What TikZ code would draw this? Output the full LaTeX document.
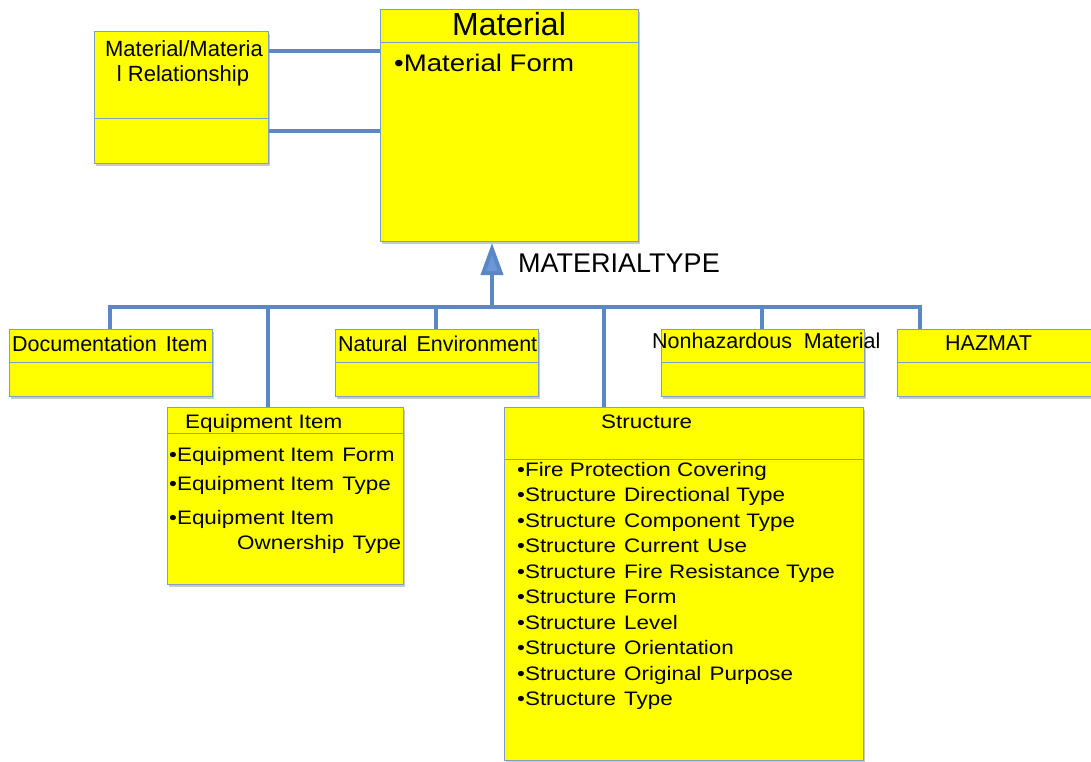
\documentclass[tikz,border=0pt]{standalone}
\usepackage{fontspec}
\setmainfont{Liberation Sans}
\newfontfamily\wf{Liberation Sans}[FakeStretch=1.15]
\newcommand\wsp{\hskip0.42em\relax}
\usetikzlibrary{arrows.meta,shadows}
\definecolor{boxy}{HTML}{FFFF00}
\definecolor{edgec}{HTML}{7F9FCB}
\definecolor{connc}{HTML}{5A88C6}
\definecolor{tipc}{HTML}{6A98D6}
\begin{document}
\begin{tikzpicture}[x=1pt,y=-1pt,
  box/.style={draw=edgec, line width=1pt, fill=boxy, inner sep=0pt, anchor=north west,
    drop shadow={shadow xshift=1.5pt, shadow yshift=-2.5pt, opacity=0.3, fill=black!70}},
  conn/.style={draw=connc, line width=4pt},
  sepl/.style={draw=edgec, line width=1pt},
  lbl/.style={inner sep=0pt, anchor=base west, font=\fontsize{21.5}{25}\selectfont},
  txt/.style={inner sep=0pt, anchor=base west, font=\wf\fontsize{19.5}{25.5}\selectfont}]
\useasboundingbox (0,0) rectangle (1091,762);
% boxes
\node[box, minimum width=258pt, minimum height=232pt] (mat) at (380,9) {};
\node[box, minimum width=174pt, minimum height=132pt] (rel) at (94,31) {};
\node[box, minimum width=203pt, minimum height=67pt] (doc) at (9,329) {};
\node[box, minimum width=203pt, minimum height=67pt] (nat) at (335,329) {};
\node[box, minimum width=203pt, minimum height=67pt] (non) at (661,329) {};
\node[box, minimum width=200pt, minimum height=67pt] (haz) at (897,329) {};
\node[box, minimum width=236pt, minimum height=177pt] (eq) at (167,407) {};
\node[box, minimum width=359pt, minimum height=353pt] (st) at (504,407) {};
% separators
\draw[sepl] ([yshift=-34pt]mat.north west) -- ([yshift=-34pt]mat.north east);
\draw[sepl] ([yshift=-88pt]rel.north west) -- ([yshift=-88pt]rel.north east);
\foreach \b in {doc,nat,non,haz}
  \draw[sepl] ([yshift=-33pt]\b.north west) -- ([yshift=-33pt]\b.north east);
\draw[sepl] ([yshift=-26pt]eq.north west) -- ([yshift=-26pt]eq.north east);
\draw[sepl] ([yshift=-52pt]st.north west) -- ([yshift=-52pt]st.north east);
% relationship connectors
\draw[conn] ([yshift=-20pt]rel.north east) -- ([yshift=-20pt]rel.north east -| mat.west);
\draw[conn] ([yshift=33pt]rel.south east) -- ([yshift=33pt]rel.south east -| mat.west);
% generalisation tree
\coordinate (hub) at (492,307);
\coordinate (doctop) at (110,329);
\coordinate (eqtop) at (268,407);
\coordinate (nattop) at (436,329);
\coordinate (sttop) at (604,407);
\coordinate (nontop) at (762,329);
\coordinate (haztop) at (920,329);
\draw[conn] (doctop) -- (doctop |- hub) -- (haztop |- hub) -- (haztop);
\foreach \c in {eqtop,nattop,sttop,nontop}
  \draw[conn] (\c) -- (\c |- hub);
\draw[conn, -{Triangle[length=32pt, width=22pt, fill=tipc]}] (hub) -- ([yshift=-1pt]hub |- mat.south);
\node[inner sep=0pt, anchor=base west, font=\fontsize{27}{30}\selectfont] (mtype) at (518,272) {MATERIALTYPE};
% texts
\node[inner sep=0pt, anchor=base, font=\fontsize{32}{36}\selectfont] (mattitle) at (509,36) {Material};
\node[inner sep=0pt, anchor=base west, font=\wf\fontsize{24}{28}\selectfont] (matform) at (394,72) {•Material Form};
\node[inner sep=0pt, anchor=base, font=\fontsize{22}{25}\selectfont] (rel1) at (184,57) {Material/Materia};
\node[inner sep=0pt, anchor=base, font=\fontsize{22}{25}\selectfont] (rel2) at (183,82) {l Relationship};
\node[lbl] (doct) at (12,351) {Documentation\wsp Item};
\node[lbl] (natt) at (338,351) {Natural\wsp Environment};
\node[lbl] (nont) at (652,348) {Nonhazardous\ \ Material};
\node[lbl] (hazt) at (945,350) {HAZMAT};
\node[txt] (eqt) at (185,428) {Equipment Item};
\node[txt] (eq1) at (169,461) {•Equipment Item\wsp Form};
\node[txt] (eq2) at (169,490) {•Equipment Item\wsp Type};
\node[txt] (eq3) at (169,524) {•Equipment Item};
\node[txt] (eq4) at (237,549) {Ownership\wsp Type};
\node[txt] (stt) at (601,428) {Structure};
\node[txt, align=left, anchor=north west] (stl) at (517,462) {%
•Fire Protection Covering\\
•Structure\wsp Directional Type\\
•Structure\wsp Component Type\\
•Structure\wsp Current\wsp Use\\
•Structure\wsp Fire Resistance Type\\
•Structure\wsp Form\\
•Structure\wsp Level\\
•Structure\wsp Orientation\\
•Structure\wsp Original\wsp Purpose\\
•Structure\wsp Type};
\end{tikzpicture}
\end{document}
